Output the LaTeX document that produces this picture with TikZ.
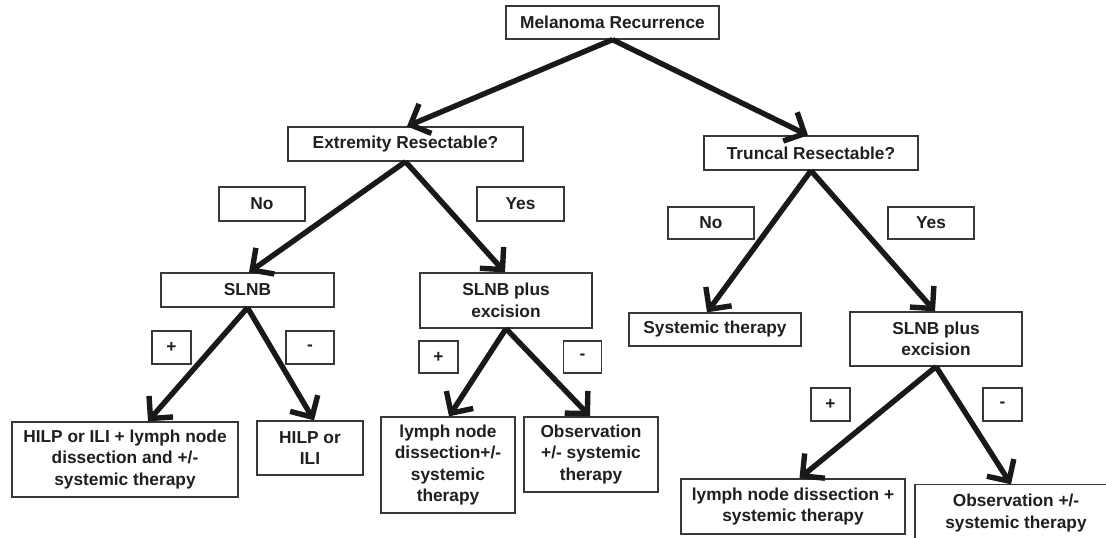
\documentclass[tikz,border=0pt]{standalone}
\usepackage{fontspec}
\setmainfont{Liberation Sans}
\usetikzlibrary{arrows.meta}
\begin{document}
\begin{tikzpicture}[x=1pt,y=-1pt,
  boxline/.style={draw=black!78, line width=1.3pt},
  box/.style={boxline, inner sep=0pt, align=center, text=black!88,
    font=\fontsize{17.3}{21.5}\selectfont\bfseries},
  arr/.style={line width=5.4pt, draw=black!90, -{Straight Barb[length=16pt,width=32pt]}}]
\clip (0,0) rectangle (1106,538);
\fill[white] (0,0) rectangle (1106,538);
% nodes
\node[box, minimum width=213pt, minimum height=33pt] (mel) at (612.5,22.5) {Melanoma Recurrence};
\node[box, minimum width=235pt, minimum height=34pt] (ext) at (405.5,144) {Extremity Resectable?};
\node[box, minimum width=214pt, minimum height=34pt] (tru) at (811,153) {Truncal Resectable?};
\node[box, minimum width=86pt, minimum height=34pt] (noL) at (262,204) {No};
\node[box, minimum width=87pt, minimum height=34pt] (yesL) at (520.5,204) {Yes};
\node[box, minimum width=173pt, minimum height=34pt] (slnb) at (247.5,290) {SLNB};
\node[box, minimum width=172pt, minimum height=55pt] (slnbL) at (506,300.5) {SLNB plus\\excision};
\node[box, minimum width=39pt, minimum height=33pt] (plusA) at (171.5,347.5) {+};
\node[box, minimum width=48pt, minimum height=33pt] (minusA) at (310,347.5) {-};
\node[box, minimum width=39pt, minimum height=32pt] (plusB) at (438.5,357) {+};
\node[box, minimum width=38.5pt, minimum height=32pt] (minusB) at (582.5,357) {-};
\node[box, minimum width=226pt, minimum height=75pt] (hilpA) at (125,459.5) {HILP or ILI + lymph node\\dissection and +/-\\systemic therapy};
\node[box, minimum width=106pt, minimum height=54pt] (hilpB) at (310,448) {HILP or\\ILI};
\node[box, minimum width=134pt, minimum height=96pt] (lymphL) at (448,465) {lymph node\\dissection+/-\\systemic\\therapy};
\node[box, minimum width=134pt, minimum height=75pt] (obsL) at (591,454.5) {Observation\\+/- systemic\\therapy};
\node[box, minimum width=86pt, minimum height=32pt] (noR) at (711,223) {No};
\node[box, minimum width=86pt, minimum height=32pt] (yesR) at (931,223) {Yes};
\node[box, minimum width=172pt, minimum height=33pt] (sys) at (715,329.5) {Systemic therapy};
\node[box, minimum width=172pt, minimum height=54pt] (slnbR) at (936,339) {SLNB plus\\excision};
\node[box, minimum width=39pt, minimum height=33pt] (plusC) at (830.5,404.5) {+};
\node[box, minimum width=39pt, minimum height=33pt] (minusC) at (1002.5,404.5) {-};
\node[box, minimum width=224pt, minimum height=55pt] (lymphR) at (793,506.5) {lymph node dissection +\\systemic therapy};
\node[box, draw=none, minimum width=202pt, minimum height=56pt] (obsR) at (1016,513) {Observation +/-\\systemic therapy};
% box of obsR, running off the page at the right and bottom
\draw[boxline] ([xshift=-101pt,yshift=-20pt]obsR.south) |- ([xshift=110pt]obsR.north);
% connectors
\draw[arr] (mel.south) -- ([xshift=1.5pt]ext.north);
\draw[arr] (mel.south) -- ([xshift=-3pt]tru.north);
\draw[arr] (ext.south) -- ([xshift=1.5pt]slnb.north);
\draw[arr] (ext.south) -- ([xshift=-1pt]slnbL.north);
\draw[arr] (tru.south) -- ([xshift=-8pt]sys.north);
\draw[arr] (tru.south) -- ([xshift=-1pt]slnbR.north);
\draw[arr] (slnb.south) -- ([xshift=23pt]hilpA.north);
\draw[arr] (slnb.south) -- ([xshift=4pt]hilpB.north);
\draw[arr] (slnbL.south) -- ([xshift=1pt]lymphL.north);
\draw[arr] (slnbL.south) -- ([xshift=-1pt]obsL.north);
\draw[arr] (slnbR.south) -- ([xshift=6.5pt]lymphR.north);
\draw[arr] (slnbR.south) -- ([xshift=-5pt]obsR.north);
\end{tikzpicture}
\end{document}
